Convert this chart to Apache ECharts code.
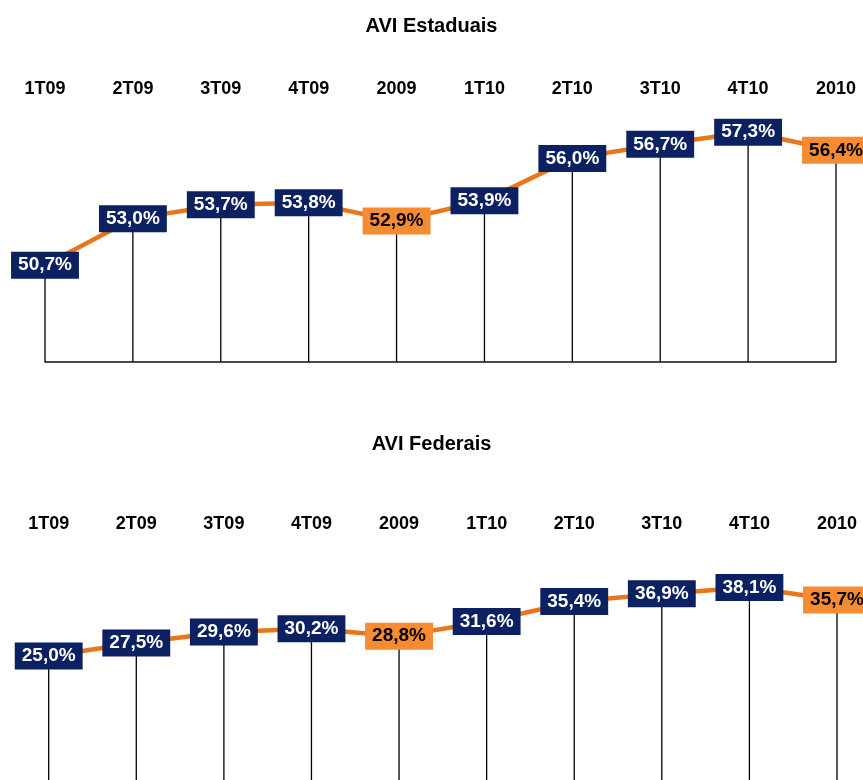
<!DOCTYPE html>
<html>
<head>
<meta charset="utf-8">
<script src="https://cdn.jsdelivr.net/npm/echarts@6/dist/echarts.min.js"></script>
<style>
  html, body { margin: 0; padding: 0; background: #fff; overflow: hidden; }
  #chart { width: 863px; height: 800px; }
</style>
</head>
<body>
<div id="chart"></div>
<script>
const categories = ['1T09', '2T09', '3T09', '4T09', '2009', '1T10', '2T10', '3T10', '4T10', '2010'];
const estaduais = [50.7, 53.0, 53.7, 53.8, 52.9, 53.9, 56.0, 56.7, 57.3, 56.4];
const federais = [25.0, 27.5, 29.6, 30.2, 28.8, 31.6, 35.4, 36.9, 38.1, 35.7];
const annualIdx = [4, 9]; // anos fechados em laranja

const NAVY = '#0b2161';
const ORANGE_BOX = '#f68b32';
const ORANGE_LINE = '#e8761b';
const FONT = 'Liberation Sans, Arial, sans-serif';

const fmt = v => v.toFixed(1).replace('.', ',') + '%';

const lineData = vals => vals.map((v, i) => {
  const annual = annualIdx.includes(i);
  return {
    value: v,
    label: {
      backgroundColor: annual ? ORANGE_BOX : NAVY,
      color: annual ? '#000' : '#fff'
    }
  };
});

const chartDom = document.getElementById('chart');
const chart = echarts.init(chartDom);

// o grafico de baixo continua alem da janela (linha de base cortada)
const grids = [
  { left: 45, right: 27, top: 110, height: 252 },
  { left: 48.7, right: 26, top: 545, height: 242 }
];

const yRanges = [
  { min: 45.9, max: 58.4 },
  { min: 0, max: 46.2 }
];

const titles = ['AVI Estaduais', 'AVI Federais'];
const titleTops = [11, 429];

const option = {
  animation: false,
  title: titles.map((t, i) => ({
    text: t,
    left: 'center',
    top: titleTops[i],
    textStyle: { fontFamily: FONT, fontSize: 20, fontWeight: 'bold', color: '#000' }
  })),
  grid: grids,
  xAxis: [],
  yAxis: [],
  series: []
};

[estaduais, federais].forEach((vals, g) => {
  // eixo de baixo: so a linha de base
  option.xAxis.push({
    type: 'category', gridIndex: g, data: categories, boundaryGap: false,
    position: 'bottom',
    axisLine: { show: true, lineStyle: { color: '#111', width: 1.5 } },
    axisTick: { show: false }, axisLabel: { show: false }, splitLine: { show: false }
  });
  // eixo de cima: os rotulos
  option.xAxis.push({
    type: 'category', gridIndex: g, data: categories, boundaryGap: false,
    position: 'top',
    axisLine: { show: false }, axisTick: { show: false }, splitLine: { show: false },
    axisLabel: {
      show: true, margin: 12, color: '#000',
      fontFamily: FONT, fontSize: 18, fontWeight: 'bold'
    }
  });
  option.yAxis.push({
    type: 'value', gridIndex: g, min: yRanges[g].min, max: yRanges[g].max,
    show: false, splitLine: { show: false }
  });

  // linhas verticais
  option.series.push({
    type: 'bar', xAxisIndex: g * 2, yAxisIndex: g, data: vals,
    barWidth: 1.3, z: 1, silent: true,
    itemStyle: { color: '#000' }
  });
  option.series.push({
    type: 'line', xAxisIndex: g * 2, yAxisIndex: g, data: lineData(vals),
    z: 3, symbol: 'rect', symbolSize: 1,
    lineStyle: { color: ORANGE_LINE, width: 4.5 },
    itemStyle: { color: ORANGE_LINE },
    label: {
      show: true, position: 'inside',
      formatter: p => fmt(p.value),
      fontFamily: FONT, fontSize: 19, fontWeight: 'bold',
      padding: [5, 7, 3, 7], borderRadius: 0
    }
  });
});

chart.setOption(option);
</script>
</body>
</html>
